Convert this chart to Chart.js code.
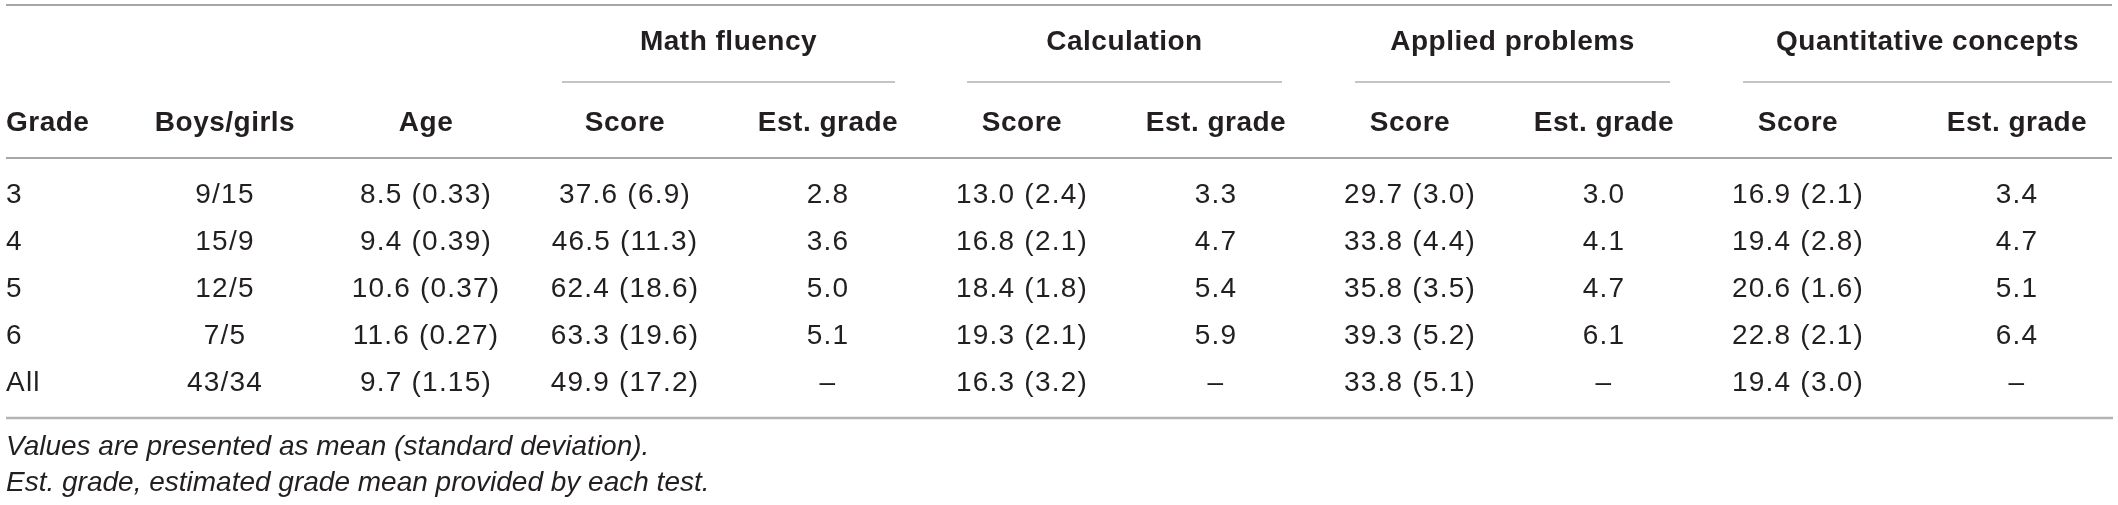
<!DOCTYPE html>
<html lang="en">
<head>
  <meta charset="UTF-8" />
  <title>Math test scores by grade</title>
  <script src="https://cdn.jsdelivr.net/npm/chart.js"></script>
  <style>
    html, body { margin: 0; padding: 0; background: #fff; }
    canvas { display: block; }
  </style>
</head>
<body>
  <canvas id="scoreTable" width="2118" height="505"></canvas>

  <script>
    // table data, one array per column (null = not given)
    const grades = ['3', '4', '5', '6', 'All'];
    const boys = [9, 15, 12, 7, 43];
    const girls = [15, 9, 5, 5, 34];
    const ageMean = [8.5, 9.4, 10.6, 11.6, 9.7];
    const ageSD = [0.33, 0.39, 0.37, 0.27, 1.15];
    const fluencyMean = [37.6, 46.5, 62.4, 63.3, 49.9];
    const fluencySD = [6.9, 11.3, 18.6, 19.6, 17.2];
    const fluencyGrade = [2.8, 3.6, 5.0, 5.1, null];
    const calcMean = [13.0, 16.8, 18.4, 19.3, 16.3];
    const calcSD = [2.4, 2.1, 1.8, 2.1, 3.2];
    const calcGrade = [3.3, 4.7, 5.4, 5.9, null];
    const appliedMean = [29.7, 33.8, 35.8, 39.3, 33.8];
    const appliedSD = [3.0, 4.4, 3.5, 5.2, 5.1];
    const appliedGrade = [3.0, 4.1, 4.7, 6.1, null];
    const quantMean = [16.9, 19.4, 20.6, 22.8, 19.4];
    const quantSD = [2.1, 2.8, 1.6, 2.1, 3.0];
    const quantGrade = [3.4, 4.7, 5.1, 6.4, null];

    const groupTitles = ['Math fluency', 'Calculation', 'Applied problems', 'Quantitative concepts'];
    const columnTitles = ['Grade', 'Boys/girls', 'Age', 'Score', 'Est. grade', 'Score', 'Est. grade',
                          'Score', 'Est. grade', 'Score', 'Est. grade'];
    const footnotes = ['Values are presented as mean (standard deviation).',
                       'Est. grade, estimated grade mean provided by each test.'];

    // layout (in canvas px, mapped through linear scales)
    const colX = [6, 225, 426, 625, 828, 1022, 1216, 1410, 1604, 1798, 2017];
    const groupSpans = [[562, 895], [967, 1282], [1355, 1670], [1743, 2112]];
    const groupY = 42, headerY = 123, rowStart = 195, rowStep = 47;
    const footY = [447, 483];

    const msd = (m, s, d) => `${m.toFixed(1)} (${s.toFixed(d)})`;
    const est = v => v === null ? '\u2013' : v.toFixed(1);

    const cells = [
      grades,
      boys.map((b, i) => `${b}/${girls[i]}`),
      ageMean.map((m, i) => msd(m, ageSD[i], 2)),
      fluencyMean.map((m, i) => msd(m, fluencySD[i], 1)),
      fluencyGrade.map(est),
      calcMean.map((m, i) => msd(m, calcSD[i], 1)),
      calcGrade.map(est),
      appliedMean.map((m, i) => msd(m, appliedSD[i], 1)),
      appliedGrade.map(est),
      quantMean.map((m, i) => msd(m, quantSD[i], 1)),
      quantGrade.map(est)
    ];

    const TEXT = '#231f20';
    const SANS = '"Liberation Sans", Arial, Helvetica, sans-serif';

    // draws the cell texts at the positions Chart.js computed for each point
    const tablePlugin = {
      id: 'tableText',
      afterDatasetsDraw(chart) {
        const ctx = chart.ctx;
        const xs = chart.scales.x, ys = chart.scales.y;
        const px = v => xs.getPixelForValue(v);
        const py = v => ys.getPixelForValue(v);
        ctx.save();

        // rules
        ctx.strokeStyle = '#8a8a8a';
        ctx.lineWidth = 1.5;
        [5, 158].forEach(y => {
          ctx.beginPath(); ctx.moveTo(px(6), py(y)); ctx.lineTo(px(2112), py(y)); ctx.stroke();
        });
        ctx.lineWidth = 1.2;
        groupSpans.forEach(([a, b]) => {
          ctx.beginPath(); ctx.moveTo(px(a), py(82)); ctx.lineTo(px(b), py(82)); ctx.stroke();
        });
        ctx.strokeStyle = '#b4b4b4';
        ctx.lineWidth = 2.5;
        ctx.beginPath(); ctx.moveTo(px(6), py(418)); ctx.lineTo(px(2113), py(418)); ctx.stroke();

        ctx.fillStyle = TEXT;
        ctx.textBaseline = 'middle';

        // header rows
        ctx.font = `bold 28px ${SANS}`;
        ctx.letterSpacing = '0.5px';
        ctx.textAlign = 'center';
        groupSpans.forEach(([a, b], i) => ctx.fillText(groupTitles[i], px((a + b) / 2), py(groupY)));
        columnTitles.forEach((t, i) => {
          ctx.textAlign = i === 0 ? 'left' : 'center';
          ctx.fillText(t, px(colX[i]), py(headerY));
        });

        // body cells from dataset elements
        ctx.font = `28px ${SANS}`;
        ctx.letterSpacing = '1.2px';
        chart.data.datasets.forEach((ds, c) => {
          const meta = chart.getDatasetMeta(c);
          ctx.textAlign = c === 0 ? 'left' : 'center';
          meta.data.forEach((pt, r) => ctx.fillText(cells[c][r], pt.x, pt.y));
        });

        // footnotes
        ctx.font = `italic 28px ${SANS}`;
        ctx.letterSpacing = '0px';
        ctx.textAlign = 'left';
        footnotes.forEach((t, i) => ctx.fillText(t, px(6), py(footY[i])));
        ctx.restore();
      }
    };

    const datasets = cells.map((col, c) => ({
      label: columnTitles[c],
      data: col.map((_, r) => ({ x: colX[c], y: rowStart + r * rowStep })),
      pointRadius: 0,
      pointHoverRadius: 0,
      showLine: false
    }));

    new Chart(document.getElementById('scoreTable'), {
      type: 'scatter',
      data: { datasets },
      options: {
        responsive: false,
        animation: false,
        events: [],
        layout: { padding: 0 },
        plugins: { legend: { display: false }, tooltip: { enabled: false } },
        scales: {
          x: { type: 'linear', min: 0, max: 2118, display: false },
          y: { type: 'linear', min: 0, max: 505, reverse: true, display: false }
        }
      },
      plugins: [tablePlugin]
    });
  </script>
</body>
</html>
